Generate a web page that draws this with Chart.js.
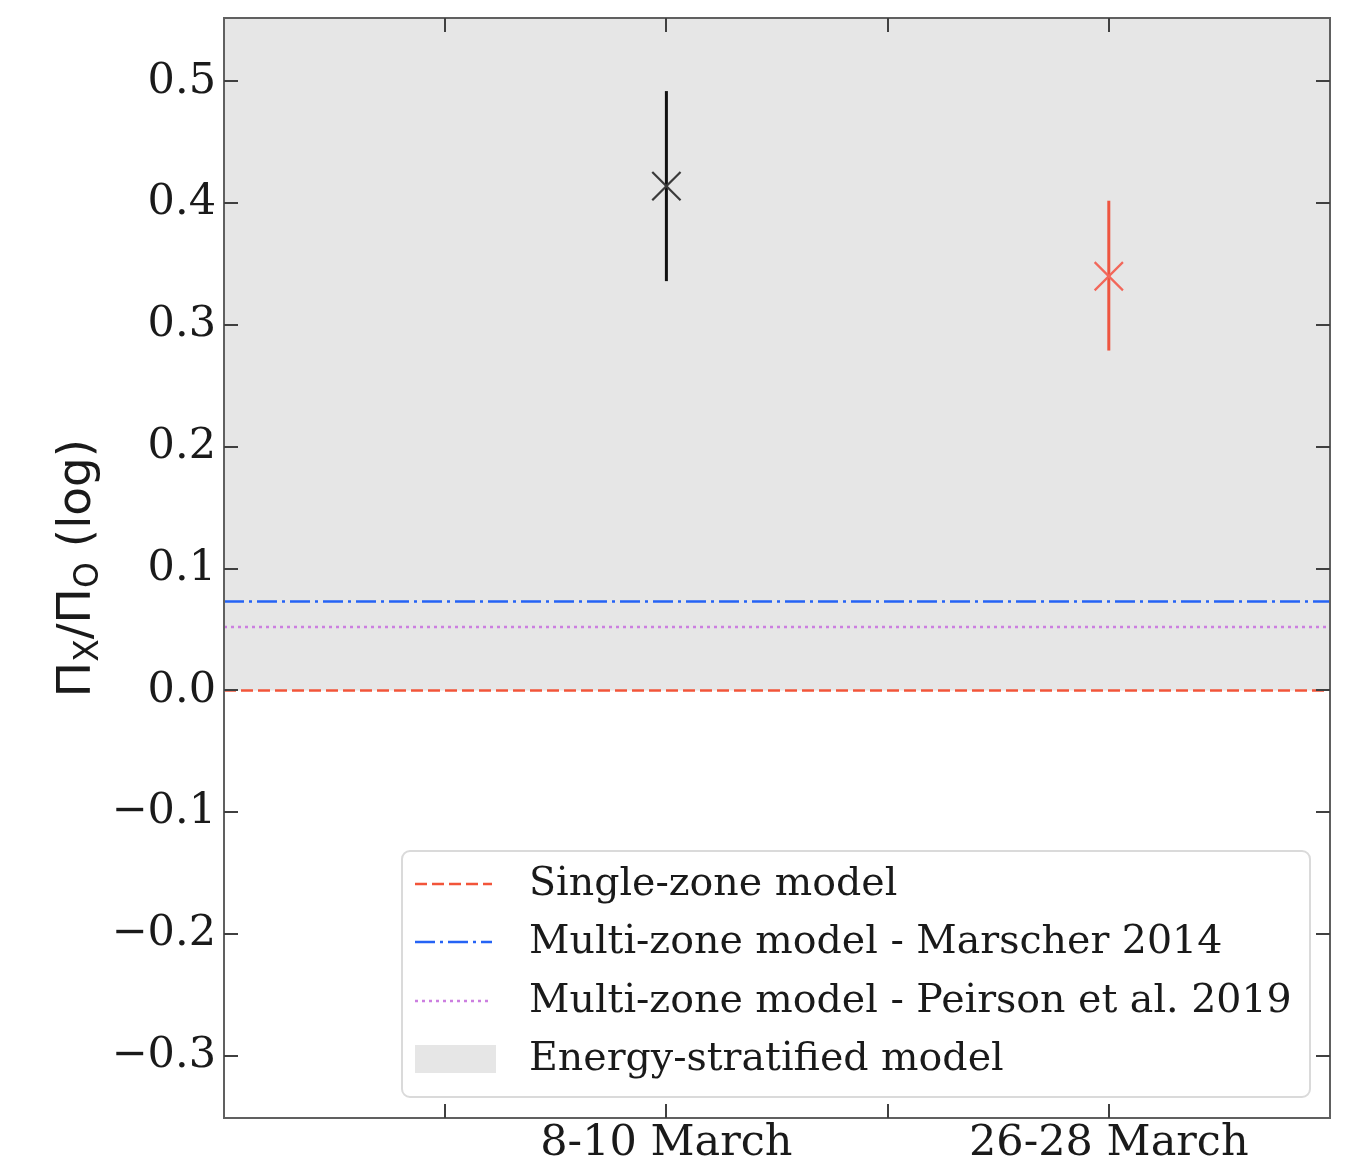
<!DOCTYPE html>
<html>
<head>
<meta charset="utf-8">
<script src="https://cdn.jsdelivr.net/npm/chart.js@4/dist/chart.umd.min.js"></script>
<style>
html,body{margin:0;padding:0;background:#fff;}
canvas{display:block;}
</style>
</head>
<body>
<canvas id="c" width="1352" height="1162"></canvas>
<script>
// ---- data ----
const categories = ['8-10 March', '26-28 March'];
const categoryX = [2, 4];
const xTickValues = [1, 2, 3, 4];
const ratioValues = [0.414, 0.340];
const errLow = [0.336, 0.279];
const errHigh = [0.492, 0.402];
const pointColors = ['#3a3a3a', '#f2675a'];
const errColors = ['#111111', '#ee5540'];
const singleZoneValue = 0.0;
const marscherValue = 0.073;
const peirsonValue = 0.052;
const stratifiedLow = 0.0;
const stratifiedHigh = 1.0;
const yTickValues = [-0.3, -0.2, -0.1, 0.0, 0.1, 0.2, 0.3, 0.4, 0.5];
const legendLabels = ['Single-zone model', 'Multi-zone model - Marscher 2014', 'Multi-zone model - Peirson et al. 2019', 'Energy-stratified model'];

const X_MIN = 0, X_MAX = 5, Y_MIN = -0.351, Y_MAX = 0.552;
const RED = '#f2553a', BLUE = '#2563f5', PURPLE = '#cc7fe0', GRAYFILL = '#e6e6e6';
const SERIF = '"DejaVu Serif", "Liberation Serif", serif';

const datasets = [];
datasets.push({
  label: legendLabels[3],
  data: [{x: X_MIN, y: stratifiedHigh}, {x: X_MAX, y: stratifiedHigh}],
  showLine: true, borderWidth: 0, borderColor: 'rgba(0,0,0,0)', pointRadius: 0,
  backgroundColor: GRAYFILL, fill: {value: stratifiedLow}, order: 10
});
datasets.push({
  label: legendLabels[0],
  data: [{x: X_MIN, y: singleZoneValue}, {x: X_MAX, y: singleZoneValue}],
  showLine: true, borderColor: RED, borderWidth: 2.5, borderDash: [12, 5], pointRadius: 0, fill: false, order: 5
});
datasets.push({
  label: legendLabels[1],
  data: [{x: X_MIN, y: marscherValue}, {x: X_MAX, y: marscherValue}],
  showLine: true, borderColor: BLUE, borderWidth: 2.5, borderDash: [20, 5, 3, 5], pointRadius: 0, fill: false, order: 5
});
datasets.push({
  label: legendLabels[2],
  data: [{x: X_MIN, y: peirsonValue}, {x: X_MAX, y: peirsonValue}],
  showLine: true, borderColor: PURPLE, borderWidth: 2.5, borderDash: [3, 4], pointRadius: 0, fill: false, order: 5
});
categoryX.forEach((cx, i) => {
  datasets.push({
    label: 'err' + i,
    data: [{x: cx, y: errLow[i]}, {x: cx, y: errHigh[i]}],
    showLine: true, borderColor: errColors[i], borderWidth: 3, pointRadius: 0, fill: false, order: 2
  });
  datasets.push({
    label: categories[i],
    data: [{x: cx, y: ratioValues[i]}],
    showLine: false, pointStyle: 'crossRot', pointRadius: 20, pointBorderWidth: 2.2,
    borderColor: pointColors[i], pointBorderColor: pointColors[i], order: 1
  });
});

const framePlugin = {
  id: 'frame',
  afterDraw(chart) {
    const ctx = chart.ctx, a = chart.chartArea;
    const xs = chart.scales.x, ys = chart.scales.y;
    ctx.save();
    ctx.strokeStyle = '#606060';
    ctx.lineWidth = 2;
    ctx.setLineDash([]);
    ctx.strokeRect(a.left, a.top, a.right - a.left, a.bottom - a.top);
    ctx.strokeStyle = '#404040';
    const tl = 14;
    ctx.beginPath();
    xTickValues.forEach(v => {
      const px = Math.round(xs.getPixelForValue(v));
      ctx.moveTo(px, a.bottom); ctx.lineTo(px, a.bottom - tl);
      ctx.moveTo(px, a.top); ctx.lineTo(px, a.top + tl);
    });
    yTickValues.forEach(v => {
      const py = Math.round(ys.getPixelForValue(v));
      ctx.moveTo(a.left, py); ctx.lineTo(a.left + tl, py);
      ctx.moveTo(a.right, py); ctx.lineTo(a.right - tl, py);
    });
    ctx.stroke();

    // y-axis title with subscripts
    ctx.fillStyle = '#1a1a1a';
    ctx.translate(90, (a.top + a.bottom) / 2);
    ctx.rotate(-Math.PI / 2);
    ctx.textBaseline = 'alphabetic';
    const big = 47, small = 33;
    const parts = [
      {t: 'Π', s: big, dy: 0}, {t: 'X', s: small, dy: 8},
      {t: '/', s: big, dy: 0},
      {t: 'Π', s: big, dy: 0}, {t: 'O', s: small, dy: 8},
      {t: ' (log)', s: big, dy: 0}
    ];
    let total = 0;
    parts.forEach(p => { ctx.font = p.s + 'px "DejaVu Sans"'; p.w = ctx.measureText(p.t).width; total += p.w; });
    let x0 = -total / 2;
    parts.forEach(p => { ctx.font = p.s + 'px "DejaVu Sans"'; ctx.fillText(p.t, x0, p.dy); x0 += p.w; });
    ctx.restore();

    // legend
    ctx.save();
    const bx = 402, by = 851, bw = 908, bh = 246;
    ctx.beginPath();
    ctx.roundRect(bx, by, bw, bh, 8);
    ctx.fillStyle = 'rgba(255,255,255,0.85)';
    ctx.fill();
    ctx.strokeStyle = '#dadada';
    ctx.lineWidth = 2;
    ctx.stroke();
    const rows = [884, 942, 1001, 1059];
    const hx0 = 415, hx1 = 492;
    const styles = [
      {c: RED, d: [12, 5]}, {c: BLUE, d: [20, 5, 3, 5]}, {c: PURPLE, d: [3, 4]}
    ];
    styles.forEach((s, i) => {
      ctx.beginPath();
      ctx.strokeStyle = s.c; ctx.lineWidth = 2.5; ctx.setLineDash(s.d);
      ctx.moveTo(hx0, rows[i]); ctx.lineTo(hx1, rows[i]); ctx.stroke();
    });
    ctx.setLineDash([]);
    ctx.fillStyle = GRAYFILL;
    ctx.fillRect(hx0, rows[3] - 14, hx1 - hx0 + 4, 28);
    ctx.fillStyle = '#1a1a1a';
    ctx.font = '39.5px ' + SERIF;
    ctx.textBaseline = 'middle';
    legendLabels.forEach((l, i) => ctx.fillText(l, 529, rows[i] + 1));
    ctx.restore();
  }
};

new Chart(document.getElementById('c'), {
  type: 'scatter',
  data: {datasets},
  options: {
    responsive: false,
    animation: false,
    devicePixelRatio: 1,
    layout: {autoPadding: false, padding: {left: 0, right: 22, top: 18, bottom: 0}},
    plugins: {legend: {display: false}, tooltip: {enabled: false}},
    scales: {
      x: {
        type: 'linear', min: X_MIN, max: X_MAX,
        grid: {display: false, drawTicks: false},
        border: {display: false},
        afterBuildTicks: s => { s.ticks = xTickValues.map(v => ({value: v})); },
        afterFit: s => { s.height = 44; s.paddingLeft = 0; s.paddingRight = 0; },
        ticks: {
          autoSkip: false, maxRotation: 0, padding: 0,
          font: {family: SERIF, size: 43}, color: '#1a1a1a',
          callback: v => { const i = categoryX.indexOf(v); return i >= 0 ? categories[i] : ''; }
        }
      },
      y: {
        type: 'linear', min: Y_MIN, max: Y_MAX,
        grid: {display: false, drawTicks: false},
        border: {display: false},
        afterBuildTicks: s => { s.ticks = yTickValues.map(v => ({value: v})); },
        afterFit: s => { s.width = 224; s.paddingTop = 0; s.paddingBottom = 0; },
        ticks: {
          autoSkip: false, padding: 8,
          font: {family: SERIF, size: 43}, color: '#1a1a1a',
          callback: v => v.toFixed(1).replace('-', '\u2212')
        }
      }
    }
  },
  plugins: [framePlugin]
});
</script>
</body>
</html>
